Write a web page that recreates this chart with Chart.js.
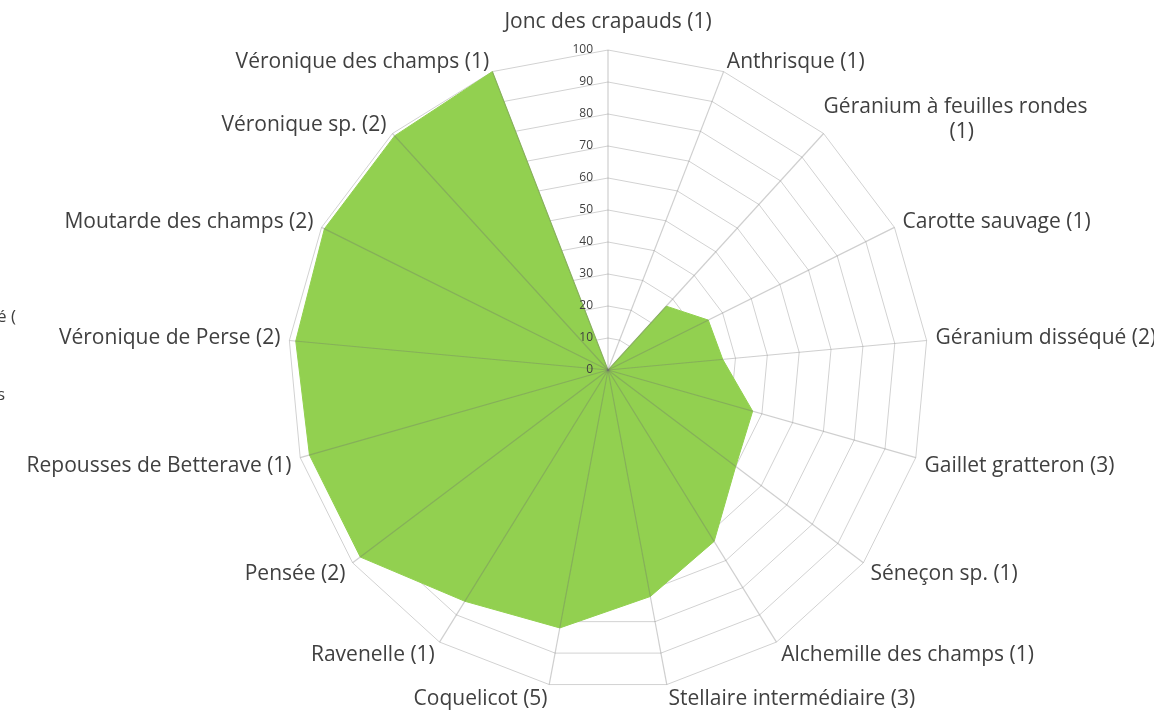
<!DOCTYPE html>
<html>
<head>
<meta charset="utf-8">
<script src="https://cdn.jsdelivr.net/npm/chart.js@4.4.1/dist/chart.umd.min.js"></script>
<style>
  html, body { margin: 0; padding: 0; background: #fff; overflow: hidden; }
  #wrap { position: relative; width: 1154px; height: 712px; }
  .cut { position: absolute; left: -3px; font: 17px "Open Sans", sans-serif; color: #404040; }
</style>
</head>
<body>
<div id="wrap">
  <canvas id="chart" width="1154" height="712"></canvas>
  <!-- bits of the neighbouring chart that were cut off on the left -->
  <div class="cut" style="top:304px">é (</div>
  <div class="cut" style="top:382px">s</div>
</div>
<script>
// Categories (clockwise from the top)
const categories = [
  "Jonc des crapauds (1)",
  "Anthrisque (1)",
  ["Géranium à feuilles rondes", "\u2003\u2003\u2003\u2003\u2003\u2003(1)"],
  "Carotte sauvage (1)",
  "Géranium disséqué (2)",
  "Gaillet gratteron (3)",
  "Séneçon sp. (1)",
  "Alchemille des champs (1)",
  "Stellaire intermédiaire (3)",
  "Coquelicot (5)",
  "Ravenelle (1)",
  "Pensée (2)",
  "Repousses de Betterave (1)",
  "Véronique de Perse (2)",
  "Moutarde des champs (2)",
  "Véronique sp. (2)",
  "Véronique des champs (1)"
];

// Values (%)
const values = [0, 0, 27, 35, 36, 47, 50, 63, 72, 82, 85, 97, 97, 98, 99, 99, 100];

// Radial ticks
const tickMin = 0;
const tickMax = 100;
const tickStep = 10;

// Layout of the plot (the reference is cropped, labels may run off the edge)
const CENTER_X = 608;
const CENTER_Y = 370;
const RADIUS = 320;

const labelColor = '#404040';
const fillColor = '#92D050';

// Radial scale with a fixed centre/radius, Excel-like label placement
// and tick labels drawn to the left of the vertical axis
const BaseRadial = Chart.registry.getScale('radialLinear');
class FixedRadialScale extends BaseRadial {
  setCenterPoint() {
    this.xCenter = CENTER_X;
    this.yCenter = CENTER_Y;
    this.drawingArea = RADIUS;
  }
  fit() {
    super.fit();
    // Excel centres its labels more on the spoke end than Chart.js does
    (this._pointLabelItems || []).forEach((item, i) => {
      const deg = Math.round(this.getIndexAngle(i) * 180 / Math.PI) % 360;
      let dy = 0;
      if (deg < 90 || deg > 270) dy = 11;
      else if (deg > 90 && deg < 270) dy = -7;
      item.y += dy; item.top += dy; item.bottom += dy;
    });
  }
  drawLabels() {
    const opts = this.options.ticks;
    if (!opts.display || !this.options.display) return;
    const ctx = this.ctx;
    ctx.save();
    ctx.font = Chart.helpers.toFont(opts.font).string;
    ctx.fillStyle = opts.color;
    ctx.textAlign = 'right';
    ctx.textBaseline = 'middle';
    this.ticks.forEach(tick => {
      const d = this.getDistanceFromCenterForValue(tick.value);
      ctx.fillText(tick.label, this.xCenter - 15, this.yCenter - d);
    });
    ctx.restore();
  }
}
FixedRadialScale.id = 'fixedRadial';
Chart.register(FixedRadialScale);

// per-label gap between the outer ring and the text
function labelPadding(ctx) {
  if (ctx.index === 0) return 18;
  if (ctx.index === 2) return -8;
  return 1;
}

new Chart(document.getElementById('chart'), {
  type: 'radar',
  data: {
    labels: categories,
    datasets: [{
      data: values,
      backgroundColor: fillColor,
      borderColor: fillColor,
      borderWidth: 1,
      fill: true,
      pointRadius: 0,
      pointHoverRadius: 0
    }]
  },
  options: {
    responsive: false,
    animation: false,
    layout: { padding: 0 },
    plugins: { legend: { display: false }, tooltip: { enabled: false } },
    scales: {
      r: {
        type: 'fixedRadial',
        min: tickMin,
        max: tickMax,
        ticks: {
          stepSize: tickStep,
          z: 2,
          color: '#404040',
          font: { family: 'Open Sans', size: 12 }
        },
        grid: { color: '#d2d2d2', lineWidth: 1 },
        angleLines: { display: false },
        pointLabels: {
          color: labelColor,
          padding: labelPadding,
          font: { family: 'Open Sans', size: 21 }
        }
      },
      // second copy of the scale drawn on top of the fill, spokes only
      spokes: {
        type: 'fixedRadial',
        axis: 'r',
        min: tickMin,
        max: tickMax,
        ticks: { display: false, stepSize: tickStep },
        grid: { display: false, z: 1 },
        angleLines: { display: true, color: 'rgba(110,110,110,0.33)', lineWidth: 1.2 },
        pointLabels: { display: false }
      }
    }
  }
});
</script>
</body>
</html>
